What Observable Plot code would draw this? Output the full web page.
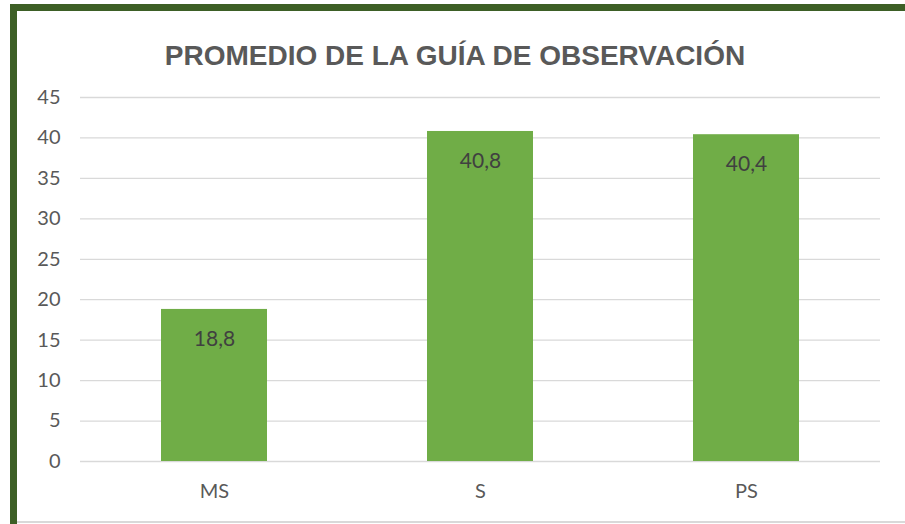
<!DOCTYPE html>
<html>
<head>
<meta charset="utf-8">
<script src="https://cdn.jsdelivr.net/npm/d3@7"></script>
<script src="https://cdn.jsdelivr.net/npm/@observablehq/plot@0.6"></script>
<style>
  html, body { margin: 0; padding: 0; background: #fff; }
  #wrap { position: relative; width: 905px; height: 524px; overflow: hidden; background: #fff; }
  #title { position: absolute; left: 0; width: 910px; top: 42px; text-align: center; line-height: 1;
    font-family: "Liberation Sans", Arial, sans-serif; font-weight: bold; font-size: 28px; color: #595959; margin: 0; }
  .bl { position: absolute; left: 10px; top: 4px; width: 7px; height: 520px; background: #3d5f26; }
  .bt { position: absolute; left: 10px; top: 4px; width: 895px; height: 7px; background: #3d5f26; }
  .bb { position: absolute; left: 17px; top: 521px; width: 888px; height: 2px; background: #d9d9d9; }
  #chart { position: absolute; left: 0; top: 0; }
</style>
</head>
<body>
<div id="wrap">
  <div id="chart"></div>
  <div class="bl"></div><div class="bt"></div><div class="bb"></div>
  <h2 id="title">PROMEDIO DE LA GUÍA DE OBSERVACIÓN</h2>
</div>
<script>
const categories = ["MS", "S", "PS"];
const values = [18.8, 40.8, 40.4];
const yTicks = [0, 5, 10, 15, 20, 25, 30, 35, 40, 45];

const data = categories.map((c, i) => ({cat: c, val: values[i]}));
const fmt = v => String(v).replace(".", ",");

const chart = Plot.plot({
  width: 905,
  height: 524,
  marginLeft: 80,
  marginRight: 25,
  marginTop: 97,
  marginBottom: 63,
  style: {fontFamily: "Lato, 'Open Sans', sans-serif", fontSize: "20px", color: "#595959", background: "transparent"},
  x: {domain: categories, paddingInner: 0.6, paddingOuter: 0.3, label: null},
  y: {domain: [0, 45], label: null},
  marks: [
    Plot.gridY(yTicks, {stroke: "#d9d9d9", strokeOpacity: 1, strokeWidth: 1.3}),
    Plot.barY(data, {x: "cat", y: "val", fill: "#70ad47"}),
    Plot.text(data, {x: "cat", y: "val", text: d => fmt(d.val), dy: 30, fill: "#404040", fontSize: 21}),
    Plot.axisY({ticks: yTicks, tickSize: 0, tickPadding: 20, fill: "#595959", fontSize: 20}),
    Plot.axisX({tickSize: 0, tickPadding: 22, fill: "#595959", fontSize: 20})
  ]
});
document.getElementById("chart").appendChild(chart);
</script>
</body>
</html>
